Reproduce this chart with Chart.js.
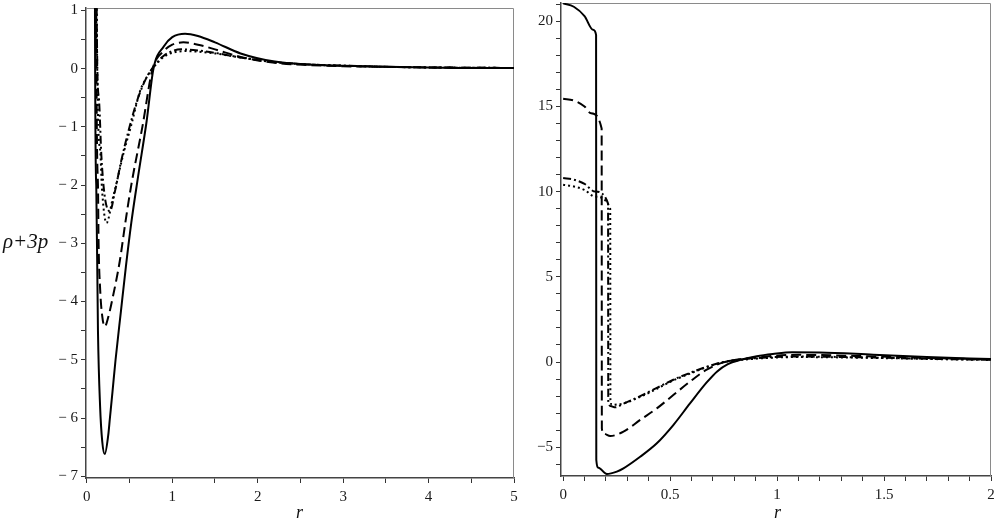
<!DOCTYPE html>
<html>
<head>
<meta charset="utf-8">
<script src="https://cdn.jsdelivr.net/npm/chart.js@4.4.1/dist/chart.umd.min.js"></script>
<style>
  html, body { margin: 0; padding: 0; background: #fff; }
  #wrap { position: relative; width: 996px; height: 523px; overflow: hidden; background: #fff; }
  canvas { position: absolute; top: 0; }
  .lbl { position: absolute; font-family: "Liberation Serif", "DejaVu Serif", serif; font-style: italic; color: #111; white-space: nowrap; }
</style>
</head>
<body>
<div id="wrap">
  <canvas id="left" width="525" height="523" style="left:0px"></canvas>
  <canvas id="right" width="471" height="523" style="left:525px"></canvas>
  <div class="lbl" style="left:3px; top:229px; font-size:21px;">ρ+3p</div>
  <div class="lbl" style="left:296px; top:502px; font-size:18px;">r</div>
  <div class="lbl" style="left:774px; top:502px; font-size:18px;">r</div>
</div>
<script>
// ---------- Left panel data (r from 0 to 5) ----------
const leftSolidR  = [0.09, 0.095, 0.11, 0.13, 0.155, 0.18, 0.21, 0.25, 0.27, 0.30, 0.336, 0.40, 0.457, 0.52, 0.60, 0.70, 0.78, 0.90, 1.00, 1.15, 1.30, 1.50, 1.80, 2.20, 2.60, 3.00, 3.50, 4.00, 4.50, 5.00];
const leftSolidV  = [20, 1.0, -2.0, -4.5, -5.8, -6.4, -6.62, -6.3, -6.0, -5.55, -5.0, -4.15, -3.4, -2.65, -1.85, -0.9, 0.0, 0.38, 0.54, 0.60, 0.56, 0.45, 0.26, 0.12, 0.07, 0.05, 0.03, 0.02, 0.01, 0.01];

const leftDashR   = [0.10, 0.11, 0.13, 0.137, 0.156, 0.18, 0.21, 0.25, 0.30, 0.386, 0.45, 0.52, 0.65, 0.77, 0.90, 1.00, 1.13, 1.30, 1.50, 1.80, 2.20, 2.60, 3.00, 3.50, 4.00, 5.00];
const leftDashV   = [20, 1.0, -2.0, -2.96, -3.8, -4.25, -4.43, -4.27, -3.95, -3.3, -2.65, -2.0, -1.0, 0.0, 0.30, 0.41, 0.45, 0.41, 0.33, 0.20, 0.10, 0.06, 0.04, 0.03, 0.02, 0.01];

const leftDashDotR = [0.10, 0.115, 0.14, 0.17, 0.21, 0.27, 0.33, 0.40, 0.50, 0.60, 0.70, 0.78, 0.90, 1.00, 1.10, 1.30, 1.50, 1.80, 2.20, 2.60, 3.00, 3.50, 4.00, 5.00];
const leftDashDotV = [20, 1.0, -0.5, -1.5, -2.2, -2.45, -2.1, -1.6, -1.0, -0.5, -0.15, 0.03, 0.22, 0.30, 0.33, 0.31, 0.27, 0.19, 0.11, 0.07, 0.05, 0.03, 0.02, 0.01];

const leftDotR    = [0.10, 0.117, 0.156, 0.176, 0.23, 0.30, 0.35, 0.43, 0.52, 0.62, 0.70, 0.78, 0.90, 1.00, 1.15, 1.30, 1.50, 1.80, 2.20, 2.60, 3.00, 3.50, 4.00, 5.00];
const leftDotV    = [20, 0.6, -1.4, -2.04, -2.65, -2.25, -1.95, -1.45, -0.97, -0.4, -0.15, 0.02, 0.20, 0.27, 0.30, 0.29, 0.26, 0.19, 0.11, 0.07, 0.05, 0.03, 0.02, 0.01];

// ---------- Right panel data (r from 0 to 2) ----------
const rightSolidR = [0, 0.05, 0.10, 0.14, 0.154, 0.155, 0.165, 0.204, 0.251, 0.282, 0.36, 0.438, 0.515, 0.593, 0.671, 0.72, 0.77, 0.83, 0.905, 0.98, 1.07, 1.20, 1.45, 1.70, 2.00];
const rightSolidV = [21.05, 20.85, 20.3, 19.5, 19.2, -5.75, -6.2, -6.57, -6.43, -6.24, -5.56, -4.77, -3.70, -2.43, -1.2, -0.55, -0.12, 0.13, 0.34, 0.47, 0.57, 0.56, 0.43, 0.30, 0.17];

const rightDashR  = [0, 0.05, 0.10, 0.13, 0.18, 0.181, 0.19, 0.22, 0.282, 0.36, 0.438, 0.515, 0.593, 0.671, 0.749, 0.905, 1.10, 1.45, 1.70, 2.00];
const rightDashV  = [15.45, 15.35, 15.0, 14.6, 13.7, -3.9, -4.2, -4.34, -4.09, -3.40, -2.72, -1.94, -1.15, -0.45, -0.02, 0.27, 0.42, 0.33, 0.24, 0.15];

const rightDashDotR = [0, 0.05, 0.10, 0.15, 0.21, 0.211, 0.225, 0.243, 0.282, 0.36, 0.438, 0.515, 0.593, 0.671, 0.749, 0.905, 1.10, 1.45, 1.70, 2.00];
const rightDashDotV = [10.8, 10.7, 10.45, 10.0, 9.3, -2.3, -2.6, -2.66, -2.45, -2.0, -1.52, -1.04, -0.64, -0.28, 0.0, 0.23, 0.32, 0.26, 0.19, 0.13];

const rightDotR   = [0, 0.05, 0.10, 0.15, 0.22, 0.221, 0.228, 0.25, 0.282, 0.36, 0.438, 0.515, 0.593, 0.671, 0.749, 0.905, 1.10, 1.45, 1.70, 2.00];
const rightDotV   = [10.4, 10.3, 10.1, 9.7, 9.0, -2.2, -2.52, -2.5, -2.43, -2.05, -1.57, -1.08, -0.68, -0.3, -0.02, 0.20, 0.29, 0.24, 0.18, 0.12];

// ---------- Ticks ----------
const leftXTicks  = [0, 0.5, 1, 1.5, 2, 2.5, 3, 3.5, 4, 4.5, 5];
const leftXLabels = [0, 1, 2, 3, 4, 5];
const leftYTicks  = [-7, -6.5, -6, -5.5, -5, -4.5, -4, -3.5, -3, -2.5, -2, -1.5, -1, -0.5, 0, 0.5, 1];
const leftYLabels = [-7, -6, -5, -4, -3, -2, -1, 0, 1];
const rightXTicks = [0, 0.1, 0.2, 0.3, 0.4, 0.5, 0.6, 0.7, 0.8, 0.9, 1, 1.1, 1.2, 1.3, 1.4, 1.5, 1.6, 1.7, 1.8, 1.9, 2];
const rightXLabels = [0, 0.5, 1, 1.5, 2];
const rightYTicks = [-6, -5, -4, -3, -2, -1, 0, 1, 2, 3, 4, 5, 6, 7, 8, 9, 10, 11, 12, 13, 14, 15, 16, 17, 18, 19, 20, 21];
const rightYLabels = [-5, 0, 5, 10, 15, 20];

// ---------- Helpers ----------
function pts(rs, vs) { return rs.map((r, i) => ({ x: r, y: vs[i] })); }
const near = (a, b) => Math.abs(a - b) < 1e-6;

const STYLES = [
  { dash: [] },
  { dash: [10, 5] },
  { dash: [8, 3, 2, 3] },
  { dash: [2, 3] }
];

function makeDatasets(series) {
  return series.map((s, i) => ({
    data: pts(s[0], s[1]),
    borderColor: '#000',
    borderWidth: 2,
    borderDash: STYLES[i].dash,
    pointRadius: 0,
    fill: false,
    cubicInterpolationMode: 'monotone'
  }));
}

const frame = {
  id: 'frame',
  beforeDatasetsDraw(chart) {
    const a = chart.chartArea, c = chart.ctx;
    c.save();
    c.strokeStyle = '#8a8a8a';
    c.lineWidth = 1;
    c.beginPath();
    c.moveTo(a.left, a.top + 0.5);
    c.lineTo(a.right - 0.5, a.top + 0.5);
    c.lineTo(a.right - 0.5, a.bottom);
    c.stroke();
    c.restore();
  }
};

const tickFont = { family: '"Liberation Serif", "DejaVu Serif", serif', size: 15 };

function axis(opts) {
  const { min, max, ticks, labels, fmt, isY, size } = opts;
  return {
    type: 'linear',
    min, max,
    afterBuildTicks(scale) { scale.ticks = ticks.map(v => ({ value: v })); },
    afterFit(scale) {
      if (isY) scale.width = size; else scale.height = size;
      scale.paddingTop = 0; scale.paddingBottom = 0;
      scale.paddingLeft = 0; scale.paddingRight = 0;
    },
    grid: { drawOnChartArea: false, drawTicks: true, tickLength: 5, color: '#333', tickWidth: 1 },
    border: { display: true, color: '#444', width: 1.5 },
    ticks: {
      autoSkip: false,
      maxRotation: 0,
      minRotation: 0,
      padding: isY ? 3 : 5,
      color: '#1a1a1a',
      font: tickFont,
      callback(v) {
        const hit = labels.find(l => near(l, v));
        if (hit === undefined) return '';
        return fmt(hit);
      }
    }
  };
}

// ---------- Left chart ----------
new Chart(document.getElementById('left'), {
  type: 'line',
  data: {
    datasets: makeDatasets([
      [leftSolidR, leftSolidV],
      [leftDashR, leftDashV],
      [leftDashDotR, leftDashDotV],
      [leftDotR, leftDotV]
    ])
  },
  options: {
    responsive: false,
    animation: false,
    devicePixelRatio: 1,
    layout: { padding: { top: 8, right: 11, left: 0, bottom: 0 } },
    plugins: { legend: { display: false }, tooltip: { enabled: false } },
    scales: {
      x: axis({ min: -0.01, max: 5, ticks: leftXTicks, labels: leftXLabels, fmt: v => String(v), isY: false, size: 45 }),
      y: axis({ min: -7.03, max: 1.04, ticks: leftYTicks, labels: leftYLabels, fmt: v => v < 0 ? '\u2212 ' + Math.abs(v) : String(v), isY: true, size: 86 })
    }
  },
  plugins: [frame]
});

// ---------- Right chart ----------
new Chart(document.getElementById('right'), {
  type: 'line',
  data: {
    datasets: makeDatasets([
      [rightSolidR, rightSolidV],
      [rightDashR, rightDashV],
      [rightDashDotR, rightDashDotV],
      [rightDotR, rightDotV]
    ])
  },
  options: {
    responsive: false,
    animation: false,
    devicePixelRatio: 1,
    layout: { padding: { top: 3, right: 5, left: 0, bottom: 0 } },
    plugins: { legend: { display: false }, tooltip: { enabled: false } },
    scales: {
      x: axis({ min: -0.01, max: 2, ticks: rightXTicks, labels: rightXLabels, fmt: v => String(v), isY: false, size: 47 }),
      y: axis({ min: -6.69, max: 21.07, ticks: rightYTicks, labels: rightYLabels, fmt: v => v < 0 ? '\u2212' + Math.abs(v) : String(v), isY: true, size: 36 })
    }
  },
  plugins: [frame]
});
</script>
</body>
</html>
